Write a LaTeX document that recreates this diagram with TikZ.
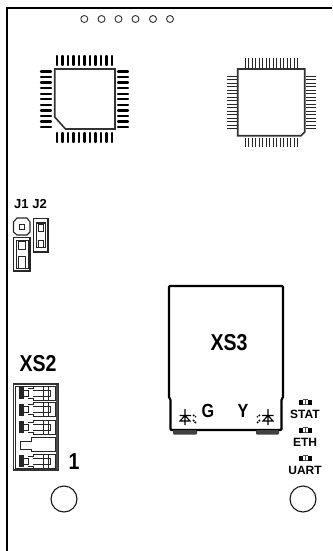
\documentclass[tikz,border=0pt]{standalone}
\usepackage{fontspec}
\setmainfont{Liberation Sans}
\newfontfamily\narrowf[FakeStretch=0.85]{Liberation Sans}
\tikzset{
  pcb/.style={line width=2.2pt,black},
  body/.style={line width=1.6pt,black!80},
  thick pin/.style={line width=2.4pt,black,line cap=round},
  thin pin/.style={line width=1.3pt,black!85},
  part/.style={line width=1pt,black!85},
  hole/.style={circle,draw,line width=1.1pt,black!90,minimum size=26pt,inner sep=0pt},
  pad/.style={circle,draw,line width=0.9pt,black!80,minimum size=7pt,inner sep=0pt},
  big/.style={inner sep=0pt,font=\narrowf\bfseries\fontsize{23}{23}\selectfont},
  mid/.style={inner sep=0pt,font=\bfseries\fontsize{13}{13}\selectfont},
  small/.style={inner sep=0pt,font=\bfseries\fontsize{12}{12}\selectfont},
  letter/.style={inner sep=0pt,font=\narrowf\bfseries\fontsize{19}{19}\selectfont}
}
\newcommand{\ledmark}[2]{%
  \fill[black] (#1-6.5,#2-2.5) rectangle (#1-2.5,#2+2.5);
  \fill[black] (#1+2.5,#2-2.5) rectangle (#1+6.5,#2+2.5);
  \draw[line width=0.7pt,black!70] (#1-2.5,#2-2.4) -- (#1+2.5,#2-2.4) (#1-2.5,#2+2.4) -- (#1+2.5,#2+2.4) (#1,#2-2) -- (#1,#2+2);
}
\newcommand{\finger}[1]{%
  \fill[black!85] (19,#1-6) rectangle (24,#1+6);
  \draw[part] (20.5,#1-3) rectangle (28,#1+3);
  \draw[part] (28,#1-5) -- (33,#1-5) -- (33,#1-7) -- (55,#1-7) -- (55,#1+7) -- (33,#1+7) -- (33,#1+5) -- (28,#1+5);
  \draw[part] (33,#1-3) -- (50,#1-3) -- (50,#1+3) -- (33,#1+3);
  \draw[part] (43,#1-7) -- (43,#1+7) (48,#1-7) -- (48,#1+7);
}
\begin{document}
\begin{tikzpicture}[x=1pt,y=-1pt]
\useasboundingbox (0,0) rectangle (332,551);
\coordinate (tl) at (7,8);
\coordinate (tr) at (332,8);
\coordinate (bl) at (7,551);
\draw[pcb] (tr) -- (tl) -- (bl);
% header holes
\foreach \i/\x in {1/84.3,2/101.5,3/118.5,4/135.5,5/153,6/170}
  \node[pad] (h\i) at (\x,19) {};
% left chip
\draw[body] (54.7,69) -- (115,69) -- (115,129) -- (65.5,129) -- (54.7,117) -- cycle;
\foreach \i in {0,...,10}{
  \pgfmathsetmacro{\p}{57+\i*5.5}
  \pgfmathsetmacro{\q}{71.5+\i*5.55}
  \draw[thick pin] (\p,56) -- (\p,65);
  \draw[thick pin] (\p,133) -- (\p,142);
  \draw[thick pin] (41,\q) -- (51,\q);
  \draw[thick pin] (118,\q) -- (128,\q);
}
% right chip
\draw[body] (237.7,69) -- (304.7,69) -- (304.7,132) -- (301,135.7) -- (237.7,135.7) -- cycle;
\foreach \i in {0,...,15}{
  \pgfmathsetmacro{\p}{245.3+\i*3.5}
  \pgfmathsetmacro{\q}{76.3+\i*3.5}
  \draw[thin pin] (\p,58) -- (\p,67.5);
  \draw[thin pin] (\p,137.5) -- (\p,147);
  \draw[thin pin] (227,\q) -- (236.5,\q);
  \draw[thin pin] (306,\q) -- (316,\q);
}
% jumpers
\node[mid,anchor=center] (j) at (30.5,204) {J1 J2};
\draw[part,line width=1.1pt] (17,218) -- (27,218) -- (30,222) -- (30,232) -- (27,235) -- (17,235) -- (13.5,232) -- (13.5,222) -- cycle;
\draw[part] (19.5,224.5) rectangle (24.5,229.5);
\draw[part,line width=1.4pt] (33.5,218.5) rectangle (48,252);
\draw[part] (36.5,222) rectangle (45,247);
\fill[black!85] (36.5,222) rectangle (45,224);
\draw[part] (38,224) rectangle (43.5,231);
\draw[part] (38,240) rectangle (43.5,247);
\draw[part,line width=1.4pt] (13.5,237.5) rectangle (30,271);
\draw[part] (16,240) rectangle (28,268);
\draw[part] (18.5,241.5) rectangle (25,249);
\draw[part] (18.5,256) rectangle (25,268);
% XS2
\node[big] (xs2) at (38,364) {XS2};
\draw[body] (13.5,384) rectangle (58,470);
\draw[part] (15.5,386) rectangle (56,468);
\fill[black!70] (55.5,385) rectangle (58,469);
\finger{393}
\finger{409.5}
\finger{427}
\draw[part] (20,441) -- (31,441) -- (31,437) -- (55,437) -- (55,451) -- (31,451) -- (31,449) -- (20,449) -- cycle;
\finger{461}
\node[big] (one) at (74,462) {1};
\node[hole] (c1) at (64,499) {};
% XS3
\draw[pcb,line join=round,rounded corners=1pt] (169,398) -- (169,286) -- (283,286) -- (283,398) -- (281.5,399) -- (281.5,430) -- (170.5,430) -- (170.5,399) -- cycle;
\fill[black!75,rounded corners=1pt] (173,430) rectangle (197,434.5);
\fill[black!75,rounded corners=1pt] (256,430) rectangle (279,434.5);
\node[big] (xs3) at (229,343) {XS3};
\node[letter] (g) at (208,411) {G};
\node[letter] (y) at (243,411) {Y};
% LED G
\draw[line width=1.1pt] (179.5,415.5) -- (191,415.5) (185,409) -- (185,425) (180,421) -- (190,421) -- (185,415.5) -- cycle;
\draw[line width=1.5pt,black,dash pattern=on 1.6pt off 1pt] (193,415) -- (196,417) (193,420) -- (196,423);
% LED Y
\draw[line width=1.1pt] (262,415.5) -- (273.5,415.5) (268,409) -- (268,425) (263,421) -- (273,421) -- (268,415.5) -- cycle;
\draw[line width=1.5pt,black,dash pattern=on 1.6pt off 1pt] (260,415) -- (257,417) (260,420) -- (257,423);
% indicators
\ledmark{305}{402}
\node[small] (stat) at (305,414) {STAT};
\ledmark{305}{430}
\node[small] (eth) at (305,442) {ETH};
\ledmark{305}{458}
\node[small] (uart) at (305,470) {UART};
\node[hole] (c2) at (303,499) {};
\end{tikzpicture}
\end{document}
